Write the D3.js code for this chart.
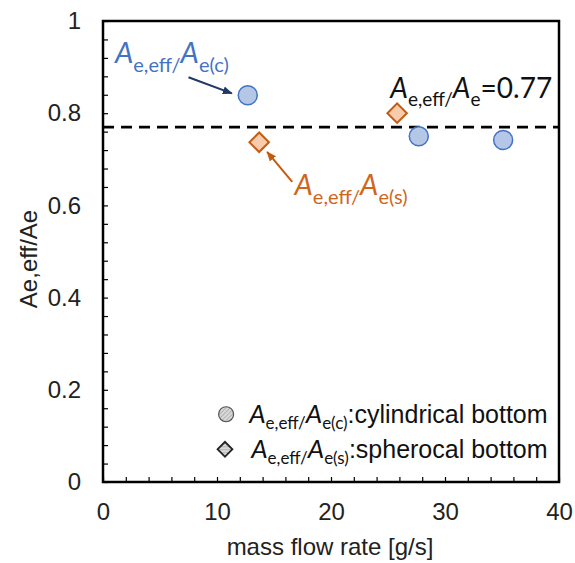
<!DOCTYPE html>
<html lang="en">
<head>
    <meta charset="UTF-8">
    <title>Ae,eff/Ae vs mass flow rate</title>
    <script src="https://cdnjs.cloudflare.com/ajax/libs/d3/7.8.2/d3.min.js"></script>
    <style>
        body { margin: 0; background: #fff; }
        svg { display: block; font-family: "Liberation Sans", Arial, sans-serif; }
    </style>
</head>
<body>
    <div id="chart"></div>

    <script>
        // data
        const cylFlow = [12.7, 27.7, 35.1];
        const cylRatio = [0.839, 0.750, 0.742];
        const sphFlow = [13.7, 25.8];
        const sphRatio = [0.737, 0.800];
        const meanRatio = 0.77;

        const xTicks = [0, 10, 20, 30, 40];
        const yTicks = [0, 0.2, 0.4, 0.6, 0.8, 1];

        const width = 575, height = 563;
        const margin = { top: 21, right: 16, bottom: 81, left: 103 };
        const w = width - margin.left - margin.right;
        const h = height - margin.top - margin.bottom;

        const blue = "#4472c4", blueFill = "#b4c7e7", navy = "#203864";
        const orange = "#c55a11", orangeFill = "#f8cbad", orangeText = "#d0661c";
        const annoFont = "Lato, 'Open Sans', sans-serif";
        const axisFont = "'Liberation Sans', Arial";

        const svg = d3.select("#chart").append("svg")
            .attr("width", width)
            .attr("height", height);

        const defs = svg.append("defs");
        const hatch = defs.append("pattern")
            .attr("id", "hatch")
            .attr("width", 3).attr("height", 3)
            .attr("patternUnits", "userSpaceOnUse")
            .attr("patternTransform", "rotate(45)");
        hatch.append("rect").attr("width", 3).attr("height", 3).attr("fill", "#d9d9d9");
        hatch.append("line").attr("x1", 0).attr("y1", 0).attr("x2", 0).attr("y2", 3)
            .attr("stroke", "#8c8c8c").attr("stroke-width", 1);

        ["blue", "orange"].forEach(c => {
            defs.append("marker")
                .attr("id", "arrow-" + c)
                .attr("viewBox", "0 0 10 10")
                .attr("refX", 9).attr("refY", 5)
                .attr("markerWidth", 5).attr("markerHeight", 5)
                .attr("orient", "auto")
                .append("path")
                .attr("d", "M0,1 L10,5 L0,9 Z")
                .attr("fill", c === "blue" ? navy : orange);
        });

        const g = svg.append("g")
            .attr("transform", `translate(${margin.left},${margin.top})`);

        const x = d3.scaleLinear().domain([0, 40]).range([0, w]);
        const y = d3.scaleLinear().domain([0, 1]).range([h, 0]);

        // inward ticks (minor every 2 g/s and every 0.04)
        g.append("g")
            .attr("transform", `translate(0,${h})`)
            .call(d3.axisBottom(x).tickValues(d3.range(0, 40.01, 2)).tickSize(-5).tickFormat(""))
            .call(a => a.select(".domain").remove())
            .selectAll("line").attr("stroke", "#000").attr("stroke-width", 1.2);

        g.append("g")
            .call(d3.axisLeft(y).tickValues(d3.range(0, 1.001, 0.04)).tickSize(-5).tickFormat(""))
            .call(a => a.select(".domain").remove())
            .selectAll("line").attr("stroke", "#000").attr("stroke-width", 1.2);

        // tick labels
        g.append("g")
            .attr("transform", `translate(0,${h})`)
            .call(d3.axisBottom(x).tickValues(xTicks).tickSize(0).tickPadding(21).tickFormat(d3.format("d")))
            .call(a => a.select(".domain").remove())
            .selectAll("text").attr("font-size", 24).attr("font-family", axisFont).attr("fill", "#222");

        g.append("g")
            .call(d3.axisLeft(y).tickValues(yTicks).tickSize(0).tickPadding(22).tickFormat(d => d === 0 || d === 1 ? d3.format("d")(d) : d3.format(".1f")(d)))
            .call(a => a.select(".domain").remove())
            .selectAll("text").attr("font-size", 24).attr("font-family", axisFont).attr("fill", "#222");

        // frame
        g.append("rect")
            .attr("width", w).attr("height", h)
            .attr("fill", "none").attr("stroke", "#000").attr("stroke-width", 2.5);

        // reference line
        g.append("line")
            .attr("x1", x(0)).attr("x2", x(40))
            .attr("y1", y(meanRatio)).attr("y2", y(meanRatio))
            .attr("stroke", "#000").attr("stroke-width", 2.8)
            .attr("stroke-dasharray", "11,7");

        // axis titles
        svg.append("text")
            .attr("x", margin.left + w / 2 - 1).attr("y", 555)
            .attr("text-anchor", "middle")
            .attr("font-size", 24).attr("fill", "#222")
            .text("mass flow rate [g/s]");

        svg.append("text")
            .attr("transform", `translate(37,259) rotate(-90)`)
            .attr("text-anchor", "middle")
            .attr("font-size", 24).attr("fill", "#222")
            .text("Ae,eff/Ae");

        // points
        const cyl = cylFlow.map((v, i) => ({ x: v, y: cylRatio[i] }));
        const sph = sphFlow.map((v, i) => ({ x: v, y: sphRatio[i] }));

        g.selectAll("circle.cyl").data(cyl).enter().append("circle")
            .attr("class", "cyl")
            .attr("cx", d => x(d.x)).attr("cy", d => y(d.y))
            .attr("r", 9.5)
            .attr("fill", blueFill).attr("stroke", blue).attr("stroke-width", 1.5);

        const diamond = d3.symbol().type(d3.symbolSquare).size(190);
        g.selectAll("path.sph").data(sph).enter().append("path")
            .attr("class", "sph")
            .attr("d", diamond)
            .attr("transform", d => `translate(${x(d.x)},${y(d.y)}) rotate(45)`)
            .attr("fill", orangeFill).attr("stroke", orange).attr("stroke-width", 2);

        // rich label helper: parts = [text, kind] where kind is "A", "sub" or "n"
        function richText(parent, px, py, parts, opt) {
            const t = parent.append("text")
                .attr("x", px).attr("y", py)
                .attr("fill", opt.color)
                .attr("text-anchor", opt.anchor || "start")
                .attr("font-family", opt.font);
            let shifted = 0;
            parts.forEach(([txt, kind]) => {
                const s = t.append("tspan").text(txt);
                const want = kind === "sub" ? opt.subShift : 0;
                if (want !== shifted) { s.attr("dy", want - shifted); shifted = want; }
                if (kind === "A") s.attr("font-style", "italic").attr("font-size", opt.big);
                else if (kind === "sub") s.attr("font-size", opt.small);
                else s.attr("font-size", opt.normal || opt.big).attr("font-family", opt.normalFont || opt.font);
            });
            return t;
        }

        // annotations
        richText(g, x(1.05), y(0.909), [["A", "A"], ["e,eff/", "sub"], ["A", "A"], ["e(c)", "sub"]],
            { color: blue, font: annoFont, big: 29, small: 20, subShift: 9 });
        g.append("line")
            .attr("x1", x(7.5)).attr("y1", y(0.878))
            .attr("x2", x(11.3)).attr("y2", y(0.843))
            .attr("stroke", navy).attr("stroke-width", 2)
            .attr("marker-end", "url(#arrow-blue)");

        richText(g, x(16.8), y(0.623), [["A", "A"], ["e,eff/", "sub"], ["A", "A"], ["e(s)", "sub"]],
            { color: orangeText, font: annoFont, big: 29, small: 20, subShift: 9 });
        g.append("line")
            .attr("x1", x(16.6)).attr("y1", y(0.651))
            .attr("x2", x(14.4)).attr("y2", y(0.716))
            .attr("stroke", orange).attr("stroke-width", 2)
            .attr("marker-end", "url(#arrow-orange)");

        richText(g, x(39.4), y(0.833), [["A", "A"], ["e,eff/", "sub"], ["A", "A"], ["e", "sub"], ["=0.77", "n"]],
            { color: "#111", font: annoFont, big: 28, small: 19, subShift: 8, anchor: "end" });

        // legend
        const legendRows = [
            { sym: "circle", sub: "e(c)", label: ":cylindrical bottom", ly: 0.127 },
            { sym: "diamond", sub: "e(s)", label: ":spherocal bottom", ly: 0.051 }
        ];
        legendRows.forEach(r => {
            richText(g, x(39.0), y(r.ly), [["A", "A"], ["e,eff/", "sub"], ["A", "A"], [r.sub, "sub"], [r.label, "n"]],
                { color: "#111", font: annoFont, big: 26, small: 17, subShift: 6, normal: 25,
                  normalFont: axisFont, anchor: "end" });
        });
        g.append("circle")
            .attr("cx", x(10.8)).attr("cy", y(legendRows[0].ly + 0.02))
            .attr("r", 7.5)
            .attr("fill", "url(#hatch)").attr("stroke", "#555").attr("stroke-width", 1.2);
        g.append("path")
            .attr("d", d3.symbol().type(d3.symbolSquare).size(110))
            .attr("transform", `translate(${x(10.7)},${y(legendRows[1].ly + 0.02)}) rotate(45)`)
            .attr("fill", "url(#hatch)").attr("stroke", "#222").attr("stroke-width", 1.8);
    </script>
</body>
</html>
